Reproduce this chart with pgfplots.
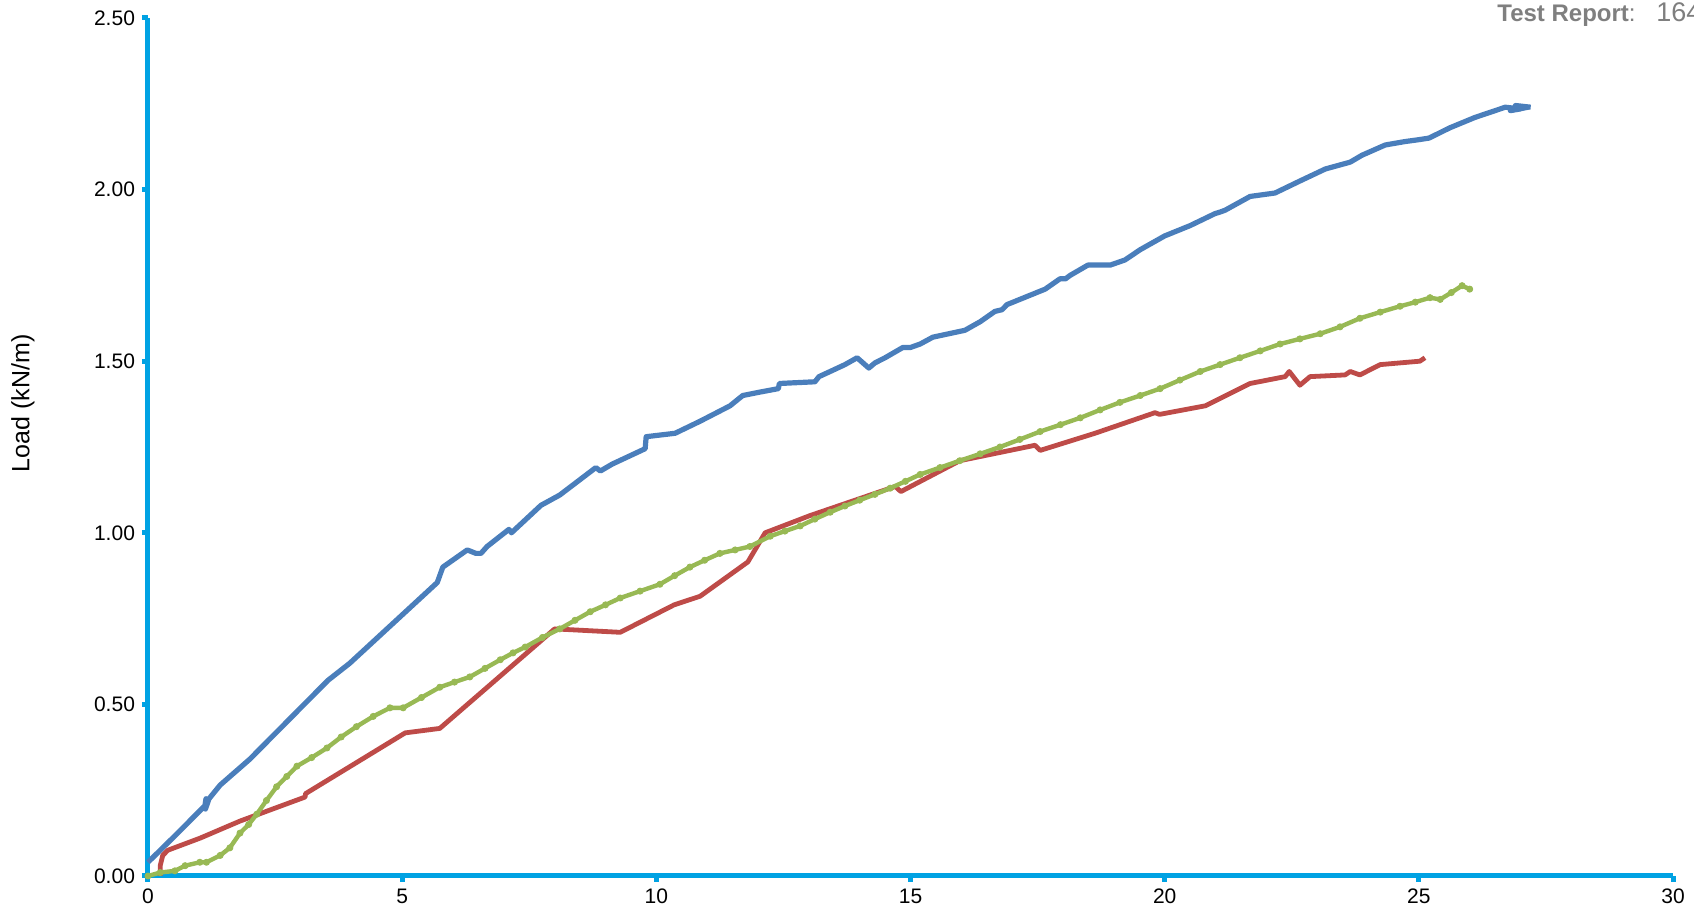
\documentclass[border=0pt]{standalone}
\usepackage{pgfplots}
\pgfplotsset{compat=1.18}
\usepackage{fontspec}
\setmainfont{Liberation Sans}
\definecolor{AxCyan}{HTML}{00A2E3}
\definecolor{SerBlue}{HTML}{4A7EBB}
\definecolor{SerRed}{HTML}{BE4B48}
\definecolor{SerGreen}{HTML}{98B954}
\definecolor{RepGray}{HTML}{7F7F7F}

\begin{document}
\begin{tikzpicture}
\begin{axis}[
    name=ax,
    scale only axis,
    width=762.5pt,
    height=429pt,
    xmin=0, xmax=30,
    ymin=0, ymax=2.5,
    xtick={0,5,...,30},
    ytick={0,0.5,...,2.5},
    axis x line*=bottom,
    axis y line*=left,
    axis line style={AxCyan, line width=2.5pt, -},
    every tick/.style={AxCyan, line width=2.5pt},
    tick align=outside,
    major tick length=3pt,
    minor tick num=0,
    clip=false,
    font=\fontsize{10.5}{12}\selectfont,
    /pgf/number format/assume math mode=true,
    yticklabel style={/pgf/number format/.cd, fixed, fixed zerofill, precision=2},
    ylabel={Load (kN/m)},
    ylabel style={at={(axis description cs:-0.082,0.551)}, anchor=center, font=\fontsize{12.5}{14}\selectfont},
]
% blue series
\addplot[SerBlue, line width=2.6pt, line join=round] coordinates {
    (0,0.04) (0.55,0.12) (1.12,0.205) (1.14,0.225) (1.13,0.195) (1.2,0.225)
    (1.42,0.265) (2.0,0.34) (3.54,0.57) (3.97,0.62) (5.69,0.855) (5.8,0.90)
    (6.28,0.95) (6.45,0.94) (6.55,0.94) (6.67,0.96) (7.1,1.01) (7.15,1.00)
    (7.73,1.08) (8.1,1.11) (8.81,1.19) (8.9,1.18) (9.13,1.20) (9.78,1.245)
    (9.8,1.28) (10.37,1.29) (10.86,1.325) (11.45,1.37) (11.7,1.40) (12.04,1.41)
    (12.4,1.42) (12.42,1.435) (13.12,1.44) (13.2,1.455) (13.42,1.47) (13.71,1.49)
    (13.95,1.51) (14.18,1.48) (14.3,1.495) (14.5,1.51) (14.85,1.54) (15.0,1.54)
    (15.19,1.55) (15.44,1.57) (16.07,1.59) (16.37,1.615) (16.66,1.645) (16.8,1.65)
    (16.9,1.665) (17.65,1.71) (17.94,1.74) (18.05,1.74) (18.14,1.75) (18.49,1.78)
    (18.93,1.78) (19.22,1.795) (19.52,1.825) (20.0,1.865) (20.5,1.895)
    (20.99,1.93) (21.1,1.935) (21.19,1.94) (21.68,1.98) (22.17,1.99)
    (22.66,2.025) (23.16,2.06) (23.65,2.08) (23.88,2.10) (24.34,2.13)
    (24.73,2.14) (24.98,2.145) (25.2,2.15) (25.61,2.18) (26.1,2.21)
    (26.7,2.24) (27.0,2.235) (26.8,2.23) (27.15,2.24) (26.9,2.245) (27.2,2.24)
};
% red series
\addplot[SerRed, line width=2.4pt, line join=round] coordinates {
    (0.24,0) (0.24,0.03) (0.29,0.06) (0.39,0.075) (1.02,0.11) (1.81,0.16)
    (3.09,0.23) (3.1,0.24) (5.06,0.417) (5.74,0.43) (8.0,0.72) (9.29,0.71)
    (10.35,0.79) (10.86,0.815) (11.8,0.915) (12.14,1.00) (13.02,1.05)
    (14.7,1.135) (14.81,1.12) (15.97,1.21) (17.45,1.255) (17.55,1.24)
    (18.63,1.29) (19.81,1.35) (19.9,1.345) (20.8,1.37) (21.68,1.435)
    (22.37,1.455) (22.45,1.47) (22.66,1.43) (22.86,1.455) (23.55,1.46)
    (23.65,1.47) (23.84,1.46) (24.24,1.49) (25.02,1.50) (25.12,1.51)
};
% green series
\addplot[SerGreen, line width=2.2pt, line join=round, mark=*, mark size=1.5pt,
    mark options={fill=SerGreen, draw=SerGreen, line width=0.5pt}] coordinates {
    (0,0) (0.24,0.01) (0.53,0.015) (0.73,0.03) (1.02,0.04) (1.15,0.04)
    (1.42,0.06) (1.61,0.082) (1.81,0.125) (1.98,0.15) (2.14,0.18) (2.33,0.22)
    (2.53,0.26) (2.73,0.29) (2.93,0.32) (3.22,0.345) (3.52,0.373) (3.8,0.405)
    (4.1,0.435) (4.43,0.465) (4.76,0.49) (5.02,0.49) (5.38,0.52) (5.74,0.55)
    (6.03,0.565) (6.33,0.58) (6.63,0.605) (6.93,0.63) (7.18,0.65) (7.42,0.667)
    (7.76,0.695) (8.1,0.72) (8.4,0.745) (8.7,0.77) (9.0,0.79) (9.29,0.81)
    (9.68,0.83) (10.07,0.85) (10.36,0.875) (10.66,0.90) (10.95,0.92)
    (11.25,0.94) (11.55,0.95) (11.84,0.96) (12.24,0.99) (12.53,1.005)
    (12.83,1.02) (13.12,1.04) (13.42,1.06) (13.71,1.078) (14.0,1.095)
    (14.3,1.112) (14.6,1.13) (14.9,1.15) (15.19,1.17) (15.58,1.19)
    (15.97,1.21) (16.37,1.23) (16.76,1.25) (17.15,1.272) (17.55,1.295)
    (17.95,1.315) (18.34,1.335) (18.73,1.358) (19.12,1.38) (19.52,1.40)
    (19.91,1.42) (20.3,1.445) (20.7,1.47) (21.09,1.49) (21.48,1.51)
    (21.88,1.53) (22.27,1.55) (22.66,1.565) (23.06,1.58) (23.45,1.60)
    (23.84,1.625) (24.24,1.643) (24.63,1.66) (24.93,1.672) (25.22,1.685)
    (25.42,1.68) (25.64,1.70) (25.85,1.72) (26.0,1.71)
};
\end{axis}
\node[anchor=base west, inner sep=0pt, text=RepGray, font=\fontsize{12}{14}\selectfont]
    at ([xshift=-88pt,yshift=-1.6pt]ax.north east) {\textbf{Test Report}:};
\node[anchor=base west, inner sep=0pt, text=RepGray, font=\fontsize{13.5}{15}\selectfont]
    at ([xshift=-8.5pt,yshift=-1.6pt]ax.north east) {164};
\pgfresetboundingbox
\path ([xshift=-74pt,yshift=-20.5pt]ax.south west) rectangle ([xshift=10.5pt,yshift=9pt]ax.north east);
\end{tikzpicture}
\end{document}
